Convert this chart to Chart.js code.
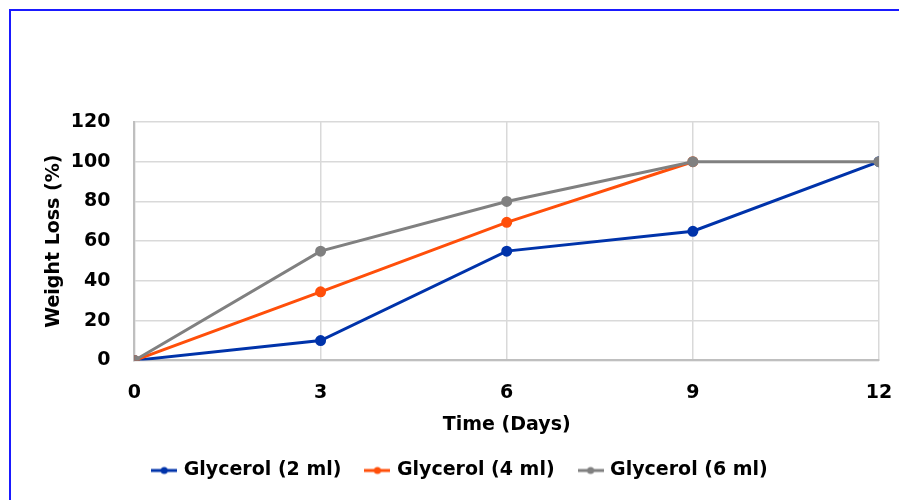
<!DOCTYPE html>
<html>
<head>
<meta charset="utf-8">
<script src="https://cdn.jsdelivr.net/npm/chart.js@4"></script>
<style>
  html, body { margin: 0; padding: 0; background: #fff; overflow: hidden; }
  canvas { display: block; }
</style>
</head>
<body>
<canvas id="c" width="899" height="500"></canvas>
<script>
// --- Data ---
const days = [0, 3, 6, 9, 12];
const gly2 = [0, 10, 55, 65, 100];
const gly4 = [0, 34.5, 69.5, 100, null]; // hidden under the gray line after day 9
const gly6 = [0, 55, 80, 100, 100];

const seriesNames = ['Glycerol (2 ml)', 'Glycerol (4 ml)', 'Glycerol (6 ml)'];
const seriesColors = ['#0033aa', '#ff4f0a', '#808080'];

const FONT = "'DejaVu Sans', Verdana, sans-serif";
const fontBold = { family: FONT, size: 19, weight: 'bold' };

function toPoints(vals) {
  return days.map((d, i) => ({ x: d, y: vals[i] }));
}

// small line-with-dot marker for the legend
function legendMarker(color) {
  const cv = document.createElement('canvas');
  cv.width = 26; cv.height = 10;
  const g = cv.getContext('2d');
  g.strokeStyle = color; g.lineWidth = 3;
  g.beginPath(); g.moveTo(0, 5); g.lineTo(26, 5); g.stroke();
  g.fillStyle = color;
  g.beginPath(); g.arc(13, 5, 3.5, 0, Math.PI * 2); g.fill();
  return cv;
}

// gray on top, then orange, then blue (lower order = drawn last)
const datasets = [gly2, gly4, gly6].map((vals, i) => ({
  label: seriesNames[i],
  data: toPoints(vals),
  borderColor: seriesColors[i],
  backgroundColor: seriesColors[i],
  borderWidth: 3,
  pointRadius: 4,
  pointHoverRadius: 4,
  pointStyle: 'circle',
  order: 2 - i
}));

// blue frame on the left and top edges
const framePlugin = {
  id: 'frame',
  beforeDraw(chart) {
    const ctx = chart.ctx;
    ctx.save();
    ctx.fillStyle = '#fff';
    ctx.fillRect(0, 0, chart.width, chart.height);
    ctx.fillStyle = '#1a1aff';
    ctx.fillRect(9, 9, 2, chart.height - 9);
    ctx.fillRect(9, 9, chart.width - 9, 2);
    ctx.restore();
  }
};

new Chart(document.getElementById('c'), {
  type: 'line',
  data: { datasets },
  plugins: [framePlugin],
  options: {
    responsive: false,
    animation: false,
    layout: { padding: { top: 122, left: 43, right: 20, bottom: 10 } },
    plugins: {
      tooltip: { enabled: false },
      legend: {
        position: 'bottom',
        reverse: true,
        labels: {
          usePointStyle: true,
          pointStyleWidth: 20,
          padding: 26,
          color: '#000',
          font: fontBold,
          generateLabels(chart) {
            return Chart.defaults.plugins.legend.labels.generateLabels(chart).map(item => {
              item.pointStyle = legendMarker(seriesColors[item.datasetIndex]);
              return item;
            });
          }
        }
      }
    },
    scales: {
      x: {
        type: 'linear',
        min: 0, max: 12,
        // keep the big tick padding from pushing the plot's right edge inwards
        afterFit(scale) { scale.paddingRight = 12; },
        ticks: { stepSize: 3, padding: 21, color: '#000', font: fontBold },
        grid: { color: '#d9d9d9', lineWidth: 1.5, drawTicks: false },
        border: { color: '#bfbfbf', width: 2 },
        title: { display: true, text: 'Time (Days)', color: '#000',
                 padding: { top: -12, bottom: -1 }, font: fontBold }
      },
      y: {
        min: 0, max: 120,
        ticks: { stepSize: 20, padding: 24, color: '#000', font: fontBold },
        grid: { color: '#d9d9d9', lineWidth: 1.5, drawTicks: false },
        border: { color: '#bfbfbf', width: 2 },
        title: { display: true, text: 'Weight Loss (%)', color: '#000',
                 padding: { top: 0, bottom: -19 }, font: fontBold }
      }
    }
  }
});
</script>
</body>
</html>
